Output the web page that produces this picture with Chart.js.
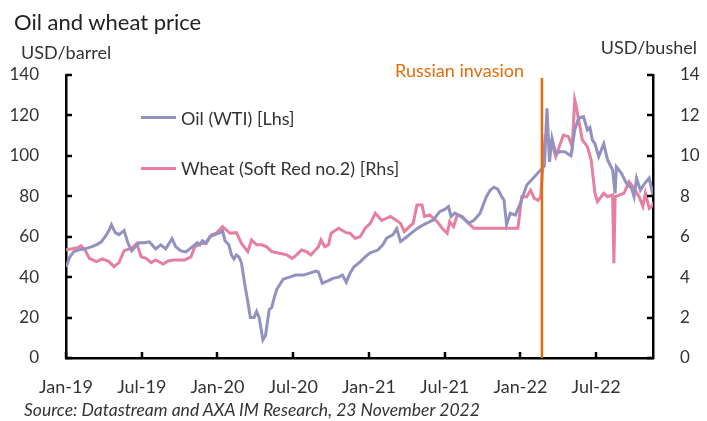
<!DOCTYPE html>
<html>
<head>
<meta charset="utf-8">
<script src="https://cdn.jsdelivr.net/npm/chart.js@4"></script>
<style>
  body { margin: 0; background: #fff; font-family: Lato, "Open Sans", sans-serif; color: #333; }
  #wrap { position: relative; width: 707px; height: 421px; }
  #chart { position: absolute; left: 0; top: 0; }
  .lbl { position: absolute; white-space: nowrap; line-height: 22px; }
  .key { position: absolute; width: 35px; height: 3px; }
</style>
</head>
<body>
<div id="wrap">
  <canvas id="chart" width="707" height="421"></canvas>
  <div class="lbl" style="left:14px; top:11px; font-size:22px; color:#222;">Oil and wheat price</div>
  <div class="lbl" style="left:21px; top:41px; font-size:18px;">USD/barrel</div>
  <div class="lbl" style="right:10px; top:36px; font-size:18px;">USD/bushel</div>
  <div class="lbl" style="left:395px; top:59px; font-size:18px; color:#E36C0A;">Russian invasion</div>
  <div class="key" style="left:141px; top:116px; background:#9391C0;"></div>
  <div class="lbl" style="left:181px; top:107px; font-size:18px;">Oil (WTI) [Lhs]</div>
  <div class="key" style="left:141px; top:167px; background:#E67FA0;"></div>
  <div class="lbl" style="left:181px; top:157px; font-size:18px;">Wheat (Soft Red no.2) [Rhs]</div>
  <div class="lbl" style="left:24px; top:399px; font-size:17.5px; font-style:italic;">Source: Datastream and AXA IM Research, 23 November 2022</div>
</div>
<script>
// months since Jan-19
const tickLabels = ['Jan-19', 'Jul-19', 'Jan-20', 'Jul-20', 'Jan-21', 'Jul-21', 'Jan-22', 'Jul-22'];
const invasionMonth = 37.7;

// Oil (WTI), USD/barrel
const oilMonths = [0, 0.3, 0.6, 1.0, 1.5, 2.0, 2.4, 2.8, 3.1, 3.4, 3.6, 3.9, 4.2, 4.6, 4.9, 5.2, 5.5, 5.8, 6.2, 6.6,
  7.1, 7.5, 7.9, 8.4, 8.7, 9.1, 9.5, 10.0, 10.4, 10.6, 10.8, 11.1, 11.4, 11.8, 12.2, 12.4, 12.6, 12.9, 13.1, 13.3,
  13.5, 13.7, 13.9, 14.2, 14.4, 14.6, 14.9, 15.1, 15.3, 15.6, 15.8, 16.1, 16.3, 16.5, 16.7, 17.0, 17.2, 17.7, 18.2, 18.8,
  19.3, 19.8, 20.0, 20.3, 20.7, 21.2, 21.6, 21.9, 22.2, 22.5, 22.8, 23.3, 23.7, 24.1, 24.7, 25.1, 25.4, 25.9, 26.2, 26.5,
  27.0, 27.4, 27.8, 28.2, 28.6, 29.1, 29.6, 30.0, 30.3, 30.5, 30.8, 31.3, 31.9, 32.3, 32.8, 33.3, 33.6, 33.9, 34.2, 34.5,
  34.7, 34.9, 35.2, 35.6, 36.0, 36.5, 37.0, 37.6, 37.9, 38.1, 38.3, 38.5, 38.8, 39.1, 39.5, 40.0, 40.3, 40.6, 41.0, 41.3,
  41.5, 41.7, 41.9, 42.2, 42.6, 42.9, 43.3, 43.5, 43.6, 44.0, 44.4, 44.8, 45.0, 45.2, 45.5, 45.8, 46.2, 46.5];
const oilValues = [45, 50, 52.5, 53.5, 54, 55, 56, 57.5, 60, 63, 66, 62, 61, 63, 57, 53, 55, 57, 57, 57.5,
  54, 56, 54, 59, 55, 53, 52.5, 55, 57, 56, 58, 57, 60, 61, 62, 63, 58, 56, 51, 49,
  51, 50, 47, 35, 28, 20, 20, 23, 20, 9, 11, 24, 25, 30, 34, 37, 39, 40, 41, 41,
  42, 43, 42.5, 37, 38, 39.5, 40, 41, 37.5, 42, 45, 47.6, 50, 52, 53.4, 56, 59.3, 61, 64, 57.6,
  60, 62, 64, 65.5, 66.8, 68.3, 72.4, 73.5, 74.9, 70, 71.7, 70, 66.7, 68, 71.6, 79.8, 83, 84.5, 83.5, 80,
  78, 66, 71.6, 70.7, 76.6, 85.6, 88.9, 93, 95, 123.5, 97, 108.7, 101, 102, 102, 100, 112.8, 118.6, 119.4, 112.8,
  114, 107.8, 106, 99.6, 106, 98, 93, 81.5, 94.6, 91.4, 86.4, 84, 79.8, 88.9, 83, 86, 89, 80.7];

// Wheat (Soft Red no.2), USD/bushel
const wheatMonths = [0, 0.5, 0.9, 1.2, 1.5, 1.85, 2.4, 2.9, 3.4, 3.8, 4.2, 4.6, 5.2, 5.6, 5.95, 6.35, 6.75, 7.1, 7.7, 8.1,
  8.5, 9.4, 9.9, 10.2, 10.7, 11.1, 11.5, 11.9, 12.4, 13.0, 13.5, 13.9, 14.4, 14.7, 15.1, 15.5, 15.9, 16.3, 16.9, 17.5,
  17.9, 18.1, 18.65, 19.05, 19.4, 20.0, 20.2, 20.5, 20.8, 21.0, 21.6, 22.2, 22.5, 22.9, 23.3, 23.7, 24.1, 24.5, 25.0, 25.7,
  26.1, 26.5, 26.8, 27.2, 27.5, 27.8, 28.2, 28.4, 28.8, 29.4, 29.8, 30.2, 30.4, 30.7, 31.0, 31.4, 31.9, 32.3, 35.8, 36.1,
  36.5, 36.8, 37.1, 37.4, 37.6, 37.95, 38.3, 38.5, 38.8, 39.1, 39.4, 39.8, 40.1, 40.3, 40.4, 40.9, 41.3, 41.6, 41.9, 42.1,
  42.6, 42.9, 43.3, 43.4, 43.5, 44.2, 44.6, 45.0, 45.4, 45.7, 45.9, 46.2, 46.4, 46.6];
const wheatValues = [5.35, 5.4, 5.45, 5.55, 5.35, 4.93, 4.77, 4.9, 4.77, 4.52, 4.72, 5.31, 5.43, 5.67, 5.01, 4.93, 4.72, 4.85, 4.65, 4.8,
  4.85, 4.85, 5.0, 5.5, 5.67, 5.67, 6.09, 6.17, 6.5, 6.17, 6.2, 5.67, 5.26, 5.84, 5.6, 5.6, 5.5, 5.26, 5.18, 5.1,
  4.93, 5.01, 5.34, 5.26, 5.1, 5.5, 5.84, 5.5, 5.6, 6.17, 6.42, 6.2, 6.17, 5.92, 6.0, 6.42, 6.66, 7.16, 6.8, 7.0,
  6.84, 6.66, 6.25, 6.5, 6.66, 7.57, 7.57, 7.0, 7.08, 6.75, 6.42, 6.17, 6.75, 6.5, 7.08, 7.0, 6.66, 6.42, 6.42, 7.98,
  7.98, 8.3, 7.9, 7.8, 7.98, 10.95, 10.8, 10.6, 9.96, 10.5, 11.03, 10.95, 10.46, 12.77, 12.5, 10.79, 10.46, 9.8, 8.15, 7.73,
  8.15, 7.98, 8.07, 4.69, 7.98, 8.15, 8.72, 8.4, 7.98, 7.5, 8.15, 7.4, 7.5, 7.73];

const oilPoints = oilMonths.map((m, i) => ({ x: m, y: oilValues[i] }));
const wheatPoints = wheatMonths.map((m, i) => ({ x: m, y: wheatValues[i] }));

// ticks pointing into the plot + invasion line
const innerTicks = {
    id: 'innerTicks',
    afterDatasetsDraw(chart) {
        const ctx = chart.ctx;
        const area = chart.chartArea;
        const { x, y, y2 } = chart.scales;
        ctx.save();
        ctx.strokeStyle = '#000';
        ctx.lineWidth = 2.5;
        ctx.beginPath();
        y.ticks.forEach(t => {
            const py = Math.round(y.getPixelForValue(t.value));
            ctx.moveTo(area.left, py);
            ctx.lineTo(area.left + 6, py);
        });
        y2.ticks.forEach(t => {
            const py = Math.round(y2.getPixelForValue(t.value));
            ctx.moveTo(area.right, py);
            ctx.lineTo(area.right - 6, py);
        });
        x.ticks.forEach(t => {
            const px = Math.round(x.getPixelForValue(t.value));
            ctx.moveTo(px, area.bottom);
            ctx.lineTo(px, area.bottom - 6);
        });
        ctx.stroke();

        const ix = x.getPixelForValue(invasionMonth);
        ctx.strokeStyle = '#E36C0A';
        ctx.lineWidth = 2.5;
        ctx.beginPath();
        ctx.moveTo(ix, area.top + 3);
        ctx.lineTo(ix, area.bottom);
        ctx.stroke();
        ctx.restore();
    }
};

const yFont = { family: 'Lato', size: 17 };
const xFont = { family: 'Lato', size: 18 };

new Chart(document.getElementById('chart'), {
    type: 'line',
    data: {
        datasets: [{
            label: 'Oil (WTI) [Lhs]',
            data: oilPoints,
            yAxisID: 'y',
            borderColor: '#9391C0',
            borderWidth: 3,
            pointRadius: 0,
            tension: 0
        }, {
            label: 'Wheat (Soft Red no.2) [Rhs]',
            data: wheatPoints,
            yAxisID: 'y2',
            borderColor: '#E67FA0',
            borderWidth: 3,
            pointRadius: 0,
            tension: 0
        }]
    },
    options: {
        responsive: false,
        animation: false,
        layout: { padding: { top: 75, left: 0, right: 0, bottom: 0 } },
        plugins: {
            legend: { display: false },
            tooltip: { enabled: false }
        },
        scales: {
            x: {
                type: 'linear',
                min: 0,
                max: 46.5,
                afterFit(scale) { scale.height = 63; },
                border: { color: '#000', width: 2.5 },
                grid: { display: false },
                ticks: {
                    stepSize: 6,
                    includeBounds: false,
                    padding: 10,
                    color: '#333',
                    font: xFont,
                    maxRotation: 0,
                    callback: v => tickLabels[v / 6] || ''
                }
            },
            y: {
                position: 'left',
                min: 0,
                max: 140,
                afterFit(scale) { scale.width = 66; },
                border: { color: '#000', width: 2.5 },
                grid: { display: false },
                ticks: { stepSize: 20, padding: 19, color: '#333', font: yFont }
            },
            y2: {
                position: 'right',
                min: 0,
                max: 14,
                afterFit(scale) { scale.width = 54; },
                border: { color: '#000', width: 2.5 },
                grid: { display: false },
                ticks: { stepSize: 2, padding: 19, color: '#333', font: yFont }
            }
        }
    },
    plugins: [innerTicks]
});
</script>
</body>
</html>
